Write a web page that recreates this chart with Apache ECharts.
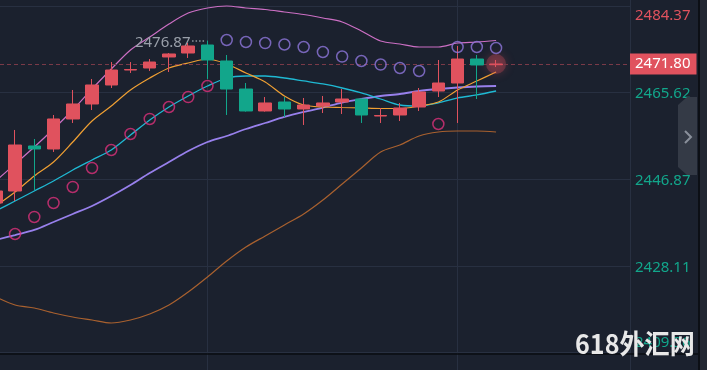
<!DOCTYPE html>
<html><head><meta charset="utf-8">
<script src="https://cdn.jsdelivr.net/npm/echarts@6/dist/echarts.min.js"></script>
<style>html,body{margin:0;padding:0;background:#1b212e;overflow:hidden}#c{width:707px;height:370px}</style>
</head><body><div id="c"></div>
<script>
// ---- data ----
const candleIdx = [0,1,2,3,4,5,6,7,8,9,10,11,12,13,14,15,16,17,18,19,20,21,22,23,24,25,26];
const openV  = [2441.74,2444.33,2454.07,2453.42,2459.91,2463.15,2467.26,2470.50,2470.94,2473.32,2474.18,2475.91,2472.45,2466.39,2461.64,2463.58,2462.07,2462.72,2463.58,2464.23,2460.55,2460.77,2462.50,2465.96,2467.69,2472.88,2471.65];
const closeV = [2444.33,2454.28,2453.42,2459.91,2463.15,2467.26,2470.50,2470.61,2472.23,2473.97,2475.70,2472.67,2466.39,2461.64,2463.37,2462.07,2462.93,2463.37,2464.23,2460.77,2460.66,2462.29,2465.75,2467.69,2472.88,2471.59,2471.80];
const lowV   = [2441.09,2442.17,2444.55,2452.77,2459.04,2461.85,2466.61,2469.86,2470.29,2470.07,2473.10,2468.56,2460.77,2461.50,2461.50,2460.34,2458.61,2461.20,2460.99,2459.04,2459.04,2459.47,2461.64,2464.66,2459.04,2464.23,2471.15];
const highV  = [2444.76,2457.53,2455.58,2460.77,2466.18,2468.56,2472.23,2472.23,2472.88,2474.18,2476.34,2476.87,2473.75,2467.69,2464.66,2464.66,2464.45,2464.88,2466.39,2464.30,2462.29,2463.37,2466.61,2472.67,2475.70,2473.75,2472.67];
const sarV   = [2433.30,2435.03,2438.71,2441.74,2445.20,2449.31,2453.20,2456.66,2459.91,2462.50,2464.66,2467.04,2476.99,2476.56,2476.34,2476.02,2475.48,2474.40,2473.42,2472.45,2471.69,2470.94,2470.29,2458.82,2475.48,2475.48,2475.26];
const bollUpper = [2446.49,2450.17,2453.85,2457.74,2461.85,2466.39,2470.72,2474.83,2477.64,2480.45,2482.83,2483.92,2484.35,2483.92,2483.59,2483.05,2482.51,2481.75,2480.89,2478.94,2476.78,2476.13,2475.48,2475.48,2476.34,2476.56,2476.89];
const bollMid   = [2433.73,2434.81,2435.90,2437.62,2439.36,2441.09,2443.25,2445.63,2448.22,2450.60,2452.98,2454.93,2456.23,2457.74,2459.04,2460.34,2461.42,2462.39,2463.47,2464.23,2464.88,2465.31,2465.96,2466.39,2466.72,2466.94,2467.04];
const bollLower = [2421.40,2419.67,2419.02,2417.94,2417.08,2416.43,2415.78,2416.43,2417.72,2419.67,2422.48,2425.73,2429.19,2432.22,2434.60,2436.98,2439.36,2442.38,2445.85,2449.31,2452.77,2454.28,2456.23,2457.09,2457.31,2457.31,2457.09];
const maFast = [2441.09,2444.11,2447.58,2450.60,2454.93,2459.47,2462.72,2466.18,2468.77,2470.94,2472.02,2472.88,2471.80,2469.86,2467.91,2464.88,2462.93,2462.50,2462.39,2462.29,2462.18,2462.18,2462.72,2463.58,2466.18,2468.13,2470.07];
const maSlow = [2440.01,2442.17,2444.33,2446.49,2448.87,2451.04,2453.20,2456.44,2459.69,2462.50,2464.88,2467.04,2468.77,2469.21,2469.21,2468.77,2468.13,2467.48,2466.61,2465.53,2464.23,2462.93,2462.72,2463.37,2464.45,2465.10,2465.96];
const yTicks = [2409.36,2428.11,2446.87,2465.62,2484.37];
const xGridTicks = [11,24];
const currentPrice = 2471.80;
const watermark = '618外汇网';

// ---- build ----
const candleData = candleIdx.map((x,i)=>[x,openV[i],closeV[i],lowV[i],highV[i]]);
const sarBelow = [], sarAbove = [];
candleIdx.forEach((x,i)=>{ if (sarV[i] < lowV[i]) sarBelow.push([x,sarV[i]]); else sarAbove.push([x,sarV[i]]); });
const line = (arr)=>candleIdx.map((x,i)=>[x,arr[i]]);
let hiIdx = 0; highV.forEach((h,i)=>{ if (h>highV[hiIdx]) hiIdx=i; });
const hiVal = highV[hiIdx];
const lastIdx = candleIdx[candleIdx.length-1];

const RED = '#e0525e', TEAL = '#12a68b', GRID = '#283041';
const chart = echarts.init(document.getElementById('c'), null, {renderer:'canvas'});
const mkLine = (name, arr, color, w) => ({
  name, type:'line', data: line(arr), showSymbol:false, smooth:0.3, z:3,
  lineStyle:{color, width:w}, itemStyle:{color}
});
chart.setOption({
  backgroundColor:'#1b212e',
  animation:false,
  textStyle:{fontFamily:'"Noto Sans", sans-serif'},
  grid:{left:0, right:77, top:0, bottom:0},
  xAxis:{
    type:'value', min:0.218, max:32.96,
    axisLine:{show:false}, axisLabel:{show:false},
    axisTick:{show:false, customValues: xGridTicks},
    splitLine:{show:true, lineStyle:{color:GRID, width:1}}
  },
  yAxis:{
    type:'value', position:'right', min:2405.61, max:2485.646,
    axisLine:{show:true, lineStyle:{color:GRID, width:1}},
    axisTick:{show:false, customValues: yTicks},
    splitLine:{show:true, lineStyle:{color:GRID, width:1}},
    axisLabel:{
      customValues: yTicks, margin:5, fontSize:15,
      formatter:(v)=>{
        const s = v.toFixed(2);
        if (Math.abs(v-yTicks[yTicks.length-1])<0.01) return '{t|'+s+'}';
        if (Math.abs(v-yTicks[0])<0.01) return '{b|'+s+'}';
        return '{m|'+s+'}';
      },
      rich:{
        t:{color:RED, fontSize:15, padding:[20,0,0,0]},
        b:{color:TEAL, fontSize:15, padding:[0,0,20,0]},
        m:{color:TEAL, fontSize:15, padding:[3,0,0,0]}
      }
    }
  },
  series:[
    mkLine('upper', bollUpper, '#cc6fc4', 1.2),
    mkLine('lower', bollLower, '#a9612f', 1.2),
    mkLine('mid', bollMid, '#9880ec', 1.8),
    mkLine('maSlow', maSlow, '#1fb9d3', 1.3),
    mkLine('maFast', maFast, '#f0a033', 1.2),
    {
      type:'scatter', data:[[lastIdx, currentPrice]], symbolSize:20, z:4,
      itemStyle:{color:'rgba(232,82,96,0.35)', shadowBlur:10, shadowColor:'rgba(232,82,96,0.9)'}
    },
    {
      type:'candlestick', data:candleData, barWidth:13, z:5,
      encode:{x:0, y:[1,2,3,4]},
      itemStyle:{color:RED, color0:TEAL, borderColor:RED, borderColor0:TEAL, borderWidth:1},
      markLine:{
        symbol:['none','none'], silent:true, animation:false,
        data:[
          {yAxis:currentPrice,
           lineStyle:{color:'#7a3a48', type:[4,3], width:1},
           label:{show:true, position:'end', distance:0, formatter:()=>currentPrice.toFixed(2),
                  backgroundColor:'#e0525e', color:'#ffffff', fontSize:15, lineHeight:15,
                  padding:[3,6,3,5]}},
          [{coord:[hiIdx-0.8, hiVal], lineStyle:{color:'#8c929c', type:[1.5,2], width:1.5}, label:{show:false}},
           {coord:[hiIdx-0.08, hiVal]}]
        ]
      },
      markPoint:{
        symbol:'circle', symbolSize:0, silent:true, animation:false,
        data:[{type:'max', valueDim:'highest'}],
        label:{show:true, position:'left', distance:17, offset:[0,2], color:'#9aa0aa', fontSize:15,
               formatter:()=>hiVal.toFixed(2)}
      }
    },
    {
      type:'scatter', data:sarBelow, symbol:'circle', symbolSize:11, z:6,
      itemStyle:{color:'rgba(0,0,0,0)', borderColor:'#dc317a', borderWidth:1.5}
    },
    {
      type:'scatter', data:sarAbove, symbol:'circle', symbolSize:11, z:6,
      itemStyle:{color:'rgba(0,0,0,0)', borderColor:'#8f77dc', borderWidth:1.5}
    }
  ],
  graphic:[
    {type:'line', shape:{x1:0,y1:354,x2:698,y2:354}, style:{stroke:'#0a0d12', lineWidth:1.5}, z:50},
    {type:'rect', shape:{x:698,y:0,width:2,height:370}, style:{fill:'#0c0f15'}, z:50},
    {type:'rect', shape:{x:700,y:0,width:7,height:370}, style:{fill:'#232833'}, z:50},
    {type:'polygon', shape:{points:[[678,105],[687,97],[697,97],[697,175],[687,175],[678,167]]}, style:{fill:'#343a46'}, z:51},
    {type:'polyline', shape:{points:[[685,131],[691,137],[685,143]]}, style:{stroke:'#8a909b', lineWidth:2, fill:null}, z:52},
    {type:'text', x:575, y:330, scaleX:0.93, z:60,
     style:{text:watermark, fill:'#e8e8e8', font:'bold 27px "Noto Sans CJK SC"'}}
  ]
});
</script></body></html>
